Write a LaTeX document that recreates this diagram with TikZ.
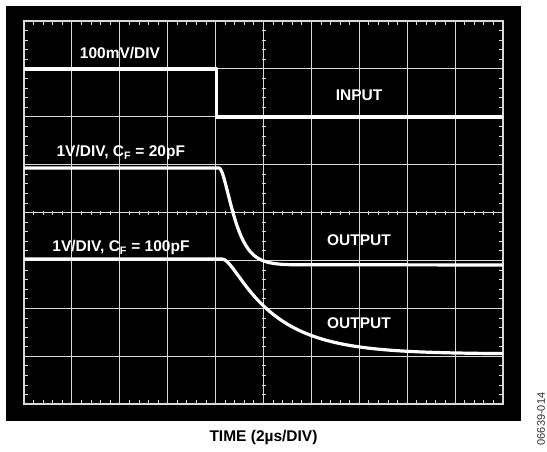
\documentclass[tikz,border=0pt]{standalone}
\usepackage{fontspec}
\setmainfont{Liberation Sans}
\definecolor{gridgray}{gray}{0.85}
\begin{document}
\begin{tikzpicture}[x=1pt,y=-1pt,
  gridline/.style={draw=gridgray, line width=0.9pt},
  tickline/.style={draw=gridgray, line width=0.9pt},
  trace/.style={draw=white, line width=3.2pt, line join=round},
  lab/.style={text=white, font=\bfseries\fontsize{15.5}{18}\selectfont, inner sep=0pt, anchor=base},
]
\useasboundingbox (0,0) rectangle (547,451);
\fill[white] (0,0) rectangle (547,451);
\fill[black] (5.5,5.5) rectangle (520.5,420.5);
% grid
\foreach \i in {1,...,9} \draw[gridline] ({24+47.9*\i},21) -- ({24+47.9*\i},404);
\foreach \j in {1,...,7} \draw[gridline] (24,{21+47.9*\j}) -- (503,{21+47.9*\j});
\draw[gridline, line width=1.5pt] (24,21) rectangle (503,404);
% minor ticks
\foreach \k in {1,...,49} {
  \draw[tickline] ({24+9.58*\k},21) -- ++(0,4);
  \draw[tickline] ({24+9.58*\k},404) -- ++(0,-4);
  \draw[tickline] ({24+9.58*\k},210.6) -- ++(0,4);
}
\foreach \k in {1,...,39} {
  \draw[tickline] (24,{21+9.58*\k}) -- ++(4,0);
  \draw[tickline] (503,{21+9.58*\k}) -- ++(-4,0);
  \draw[tickline] (261.5,{21+9.58*\k}) -- ++(4,0);
}
% traces
\draw[trace] (24,69) -- (216.5,69) -- (216.5,117) -- (503,117);
\draw[trace] (24,168) -- (219,168) -- plot[domain=0:70, samples=60] ({219+\x},{168+97*(1-(1+\x/9)*exp(-\x/9))}) -- (503,265);
\draw[trace] (24,259) -- (222,259) -- plot[domain=0:281, samples=120] ({222+\x},{259+95*(1-(50*exp(-\x/50)-7*exp(-min(\x/7,12)))/43)});
% labels
\node[lab] (l100mv) at (120,58.3) {100mV/DIV};
\node[lab] (linput) at (359,100.7) {INPUT};
\node[lab] (lcf20) at (120.8,156.7) {1V/DIV, C\textsubscript{F} = 20pF};
\node[lab] (lout1) at (359,245) {OUTPUT};
\node[lab] (lout2) at (359,328.3) {OUTPUT};
\node[lab] (lcf100) at (121,251.7) {1V/DIV, C\textsubscript{F} = 100pF};
\node[lab, text=black] (ltime) at (263.5,441.7) {TIME (2µs/DIV)};
\node[rotate=90, font=\fontsize{11}{13}\selectfont, inner sep=0pt, text=black!80] (lfig) at (541,419) {06639-014};
\end{tikzpicture}
\end{document}
